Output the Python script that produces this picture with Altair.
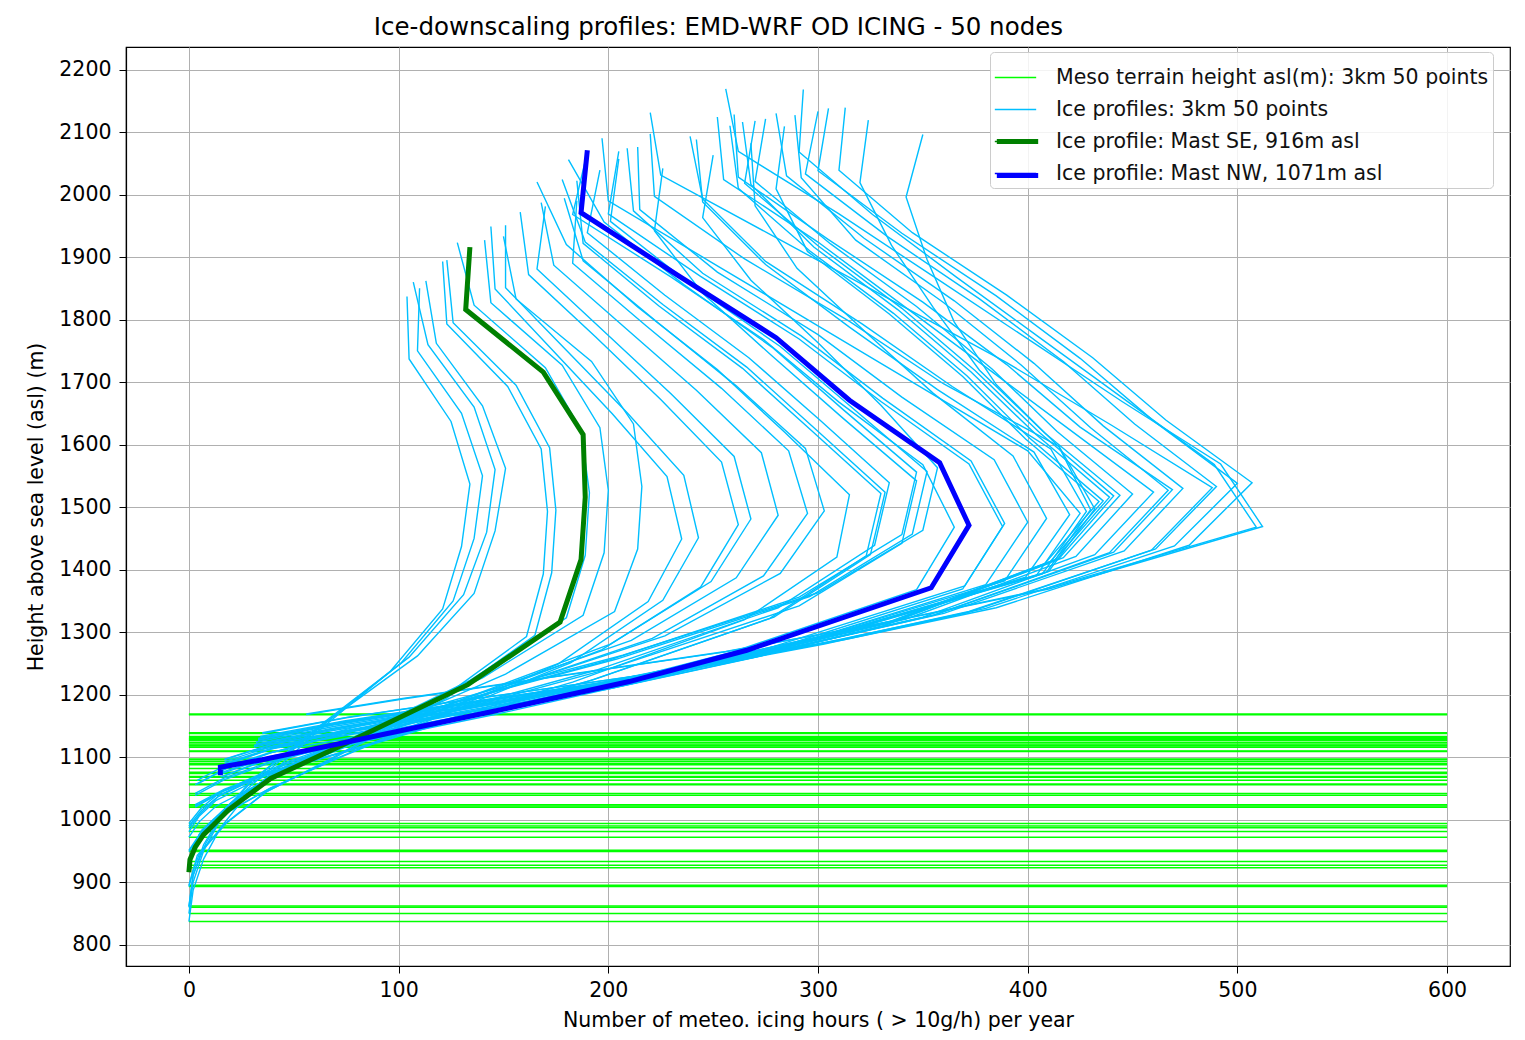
import altair as alt
import pandas as pd

TITLE = "Ice-downscaling profiles: EMD-WRF OD ICING - 50 nodes"
X_TITLE = "Number of meteo. icing hours ( > 10g/h) per year"
Y_TITLE = "Height above sea level (asl) (m)"

SERIES = [
    "Meso terrain height asl(m): 3km 50 points",
    "Ice profiles: 3km 50 points",
    "Ice profile: Mast SE, 916m asl",
    "Ice profile: Mast NW, 1071m asl",
]
COLORS = ["#00ff00", "#00bfff", "#008000", "#0000ff"]

X_TICKS = [0, 100, 200, 300, 400, 500, 600]
Y_TICKS = [800, 900, 1000, 1100, 1200, 1300, 1400, 1500, 1600, 1700,
           1800, 1900, 2000, 2100, 2200]

# terrain height (m asl) of the 50 mesoscale points
TERRAIN_H = [837, 850, 860, 862, 893, 895, 923, 927, 933, 949,
             951, 972, 981, 987, 990, 994, 1020, 1022, 1024, 1039,
             1042, 1056, 1057, 1063, 1068, 1069, 1074, 1076, 1082, 1088,
             1090, 1093, 1096, 1097, 1109, 1110, 1116, 1118, 1119, 1121,
             1124, 1127, 1128, 1130, 1131, 1133, 1138, 1139, 1168, 1169]

# model levels above terrain (m)
LEVELS_DZ = [0, 25, 50, 100, 150, 200, 300, 400, 500, 600, 700, 800, 900, 1000]

# icing hours per year at each level, one row per point
ICE_X = [
    [0, 1, 2, 7, 15, 27, 60, 96, 121, 130, 134, 125, 105, 104],
    [0, 1, 2, 7, 15, 28, 63, 101, 126, 136, 140, 130, 109, 110],
    [0, 1, 2, 7, 16, 29, 66, 105, 131, 142, 146, 136, 114, 107],
    [0, 1, 2, 8, 17, 30, 68, 109, 136, 146, 151, 140, 118, 113],
    [0, 2, 4, 17, 36, 65, 120, 161, 169, 171, 168, 152, 123, 121],
    [0, 2, 5, 18, 37, 67, 123, 165, 173, 175, 172, 156, 126, 123],
    [0, 2, 5, 19, 40, 73, 134, 180, 189, 191, 187, 170, 136, 128],
    [0, 2, 5, 20, 42, 76, 140, 188, 198, 200, 196, 178, 144, 141],
    [0, 2, 6, 22, 45, 82, 151, 203, 214, 216, 212, 192, 156, 150],
    [0, 5, 12, 38, 71, 106, 176, 219, 235, 228, 202, 174, 146, 144],
    [0, 5, 12, 39, 73, 109, 182, 226, 243, 236, 209, 180, 151, 151],
    [0, 5, 13, 42, 79, 118, 197, 244, 262, 254, 225, 194, 162, 158],
    [0, 5, 13, 43, 80, 121, 201, 249, 268, 260, 230, 198, 166, 170],
    [0, 6, 14, 45, 84, 126, 211, 261, 281, 273, 242, 208, 174, 168],
    [0, 6, 15, 47, 89, 133, 221, 274, 295, 286, 254, 218, 183, 185],
    [0, 6, 15, 48, 91, 136, 227, 282, 303, 294, 261, 224, 188, 179],
    [3, 16, 35, 85, 132, 183, 265, 309, 315, 284, 252, 214, 180, 166],
    [3, 17, 36, 89, 139, 191, 277, 323, 330, 297, 264, 224, 188, 185],
    [3, 17, 37, 90, 139, 193, 279, 325, 332, 299, 266, 226, 189, 178],
    [3, 17, 37, 90, 140, 194, 281, 327, 334, 301, 267, 227, 190, 196],
    [3, 17, 38, 94, 146, 201, 291, 340, 347, 312, 278, 245, 222, 226],
    [3, 17, 38, 94, 146, 201, 291, 340, 347, 312, 278, 236, 198, 181],
    [4, 18, 39, 95, 148, 204, 296, 345, 352, 317, 282, 239, 201, 205],
    [4, 18, 39, 96, 150, 207, 300, 350, 357, 330, 300, 268, 245, 250],
    [15, 34, 69, 139, 201, 259, 347, 365, 350, 310, 274, 230, 183, 190],
    [16, 36, 74, 147, 213, 275, 369, 388, 372, 330, 291, 244, 200, 205],
    [16, 37, 74, 148, 214, 276, 370, 389, 373, 331, 292, 245, 212, 209],
    [16, 38, 76, 152, 220, 284, 380, 400, 384, 340, 300, 252, 215, 214],
    [16, 38, 78, 155, 225, 290, 389, 409, 393, 355, 322, 290, 270, 268],
    [17, 39, 80, 160, 231, 298, 399, 420, 403, 357, 315, 275, 245, 242],
    [17, 40, 81, 162, 234, 302, 404, 425, 400, 350, 300, 250, 200, 197],
    [17, 40, 81, 163, 235, 304, 407, 428, 411, 364, 321, 275, 245, 239],
    [17, 40, 82, 163, 237, 305, 409, 430, 415, 385, 365, 352, 342, 350],
    [17, 41, 82, 164, 238, 307, 410, 432, 415, 360, 315, 265, 222, 220],
    [30, 65, 109, 200, 269, 330, 408, 434, 399, 369, 334, 295, 280, 284],
    [31, 65, 109, 201, 270, 331, 410, 436, 401, 371, 336, 296, 262, 258],
    [31, 66, 110, 202, 272, 334, 413, 439, 404, 373, 338, 298, 268, 264],
    [31, 66, 110, 203, 273, 335, 415, 441, 406, 375, 340, 300, 265, 270],
    [31, 67, 111, 204, 275, 337, 417, 444, 408, 377, 355, 335, 320, 324],
    [32, 68, 113, 207, 279, 342, 423, 450, 414, 383, 347, 306, 270, 275],
    [32, 69, 115, 212, 285, 350, 432, 460, 420, 380, 340, 300, 255, 252],
    [33, 70, 117, 215, 290, 355, 439, 467, 430, 397, 360, 318, 292, 289],
    [33, 70, 117, 216, 291, 356, 441, 469, 425, 390, 350, 305, 262, 260],
    [33, 71, 119, 218, 294, 360, 446, 474, 436, 403, 365, 322, 285, 280],
    [34, 73, 122, 224, 303, 371, 459, 488, 440, 390, 335, 280, 225, 220],
    [34, 74, 123, 225, 304, 372, 461, 490, 451, 417, 377, 333, 294, 300],
    [35, 75, 125, 230, 310, 380, 470, 500, 460, 425, 385, 340, 300, 305],
    [35, 76, 127, 233, 314, 385, 477, 507, 466, 431, 390, 345, 310, 313],
    [56, 102, 153, 255, 336, 407, 509, 489, 448, 407, 366, 326, 291, 293],
    [56, 102, 154, 256, 338, 410, 512, 492, 445, 400, 355, 310, 262, 256],
]

MAST_SE_H = 916
MAST_SE_DZ = [0, 20, 40, 60, 80, 100, 150, 200, 300, 400, 500, 600, 700, 800, 900, 1000]
MAST_SE_X = [0, 0.5, 3, 7, 13, 19, 39, 71, 133, 177, 187, 189, 188, 169, 132, 134]

MAST_NW_H = 1071
MAST_NW_DZ = [0, 13, 25, 50, 75, 100, 150, 200, 300, 400, 500, 600, 700, 800, 900, 1000]
MAST_NW_X = [15, 15, 35, 71, 106, 142, 210, 266, 354, 372, 358, 315, 280, 233, 187, 190]

FONT = "DejaVu Sans"
LEG_X, LEG_Y = 864, 5
LEG_SYMBOL = 1710
LEG_ROW = 31

# ---- tables built from the arrays above ----
terrain_df = pd.DataFrame({
    "y": TERRAIN_H,
    "x": [X_TICKS[0]] * len(TERRAIN_H),
    "x2": [X_TICKS[-1]] * len(TERRAIN_H),
    "series": [SERIES[0]] * len(TERRAIN_H),
})

rows = []
for pid, (h, xs) in enumerate(zip(TERRAIN_H, ICE_X)):
    for k, (dz, xv) in enumerate(zip(LEVELS_DZ, xs)):
        rows.append({"pid": pid, "k": k, "x": xv, "y": h + dz, "series": SERIES[1]})
ice_df = pd.DataFrame(rows)

se_df = pd.DataFrame({
    "k": list(range(len(MAST_SE_DZ))),
    "x": MAST_SE_X,
    "y": [MAST_SE_H + d for d in MAST_SE_DZ],
    "mast": [SERIES[2]] * len(MAST_SE_DZ),
})
nw_df = pd.DataFrame({
    "k": list(range(len(MAST_NW_DZ))),
    "x": MAST_NW_X,
    "y": [MAST_NW_H + d for d in MAST_NW_DZ],
    "mast": [SERIES[3]] * len(MAST_NW_DZ),
})

x_enc = alt.X(
    "x:Q",
    scale=alt.Scale(domain=[-30, 630], nice=False, zero=False),
    axis=alt.Axis(values=X_TICKS, title=X_TITLE, labelPadding=7, titlePadding=10),
)
y_enc = alt.Y(
    "y:Q",
    scale=alt.Scale(domain=[766, 2236], nice=False, zero=False),
    axis=alt.Axis(values=Y_TICKS, title=Y_TITLE, format="d", labelPadding=8, titlePadding=12),
)

common_leg = dict(
    title=None,
    orient="none",
    legendX=LEG_X,
    symbolType="stroke",
    symbolSize=LEG_SYMBOL,
    labelFont=FONT,
    labelFontSize=20.5,
    labelLimit=800,
    labelOffset=19,
    padding=4,
    rowPadding=0,
)
legend_all = alt.Legend(
    legendY=LEG_Y,
    symbolStrokeWidth=1.5,
    labelColor="#111111",
    fillColor="rgba(255,255,255,0.85)",
    strokeColor="#cccccc",
    cornerRadius=4,
    **common_leg,
)
# thick symbols laid exactly over the two mast rows of the legend above
legend_mast = alt.Legend(
    legendY=LEG_Y + 2 * LEG_ROW,
    symbolStrokeWidth=5,
    labelExpr="''",
    **common_leg,
)

color_enc = alt.Color("series:N", scale=alt.Scale(domain=SERIES, range=COLORS), legend=legend_all)
mast_enc = alt.Stroke("mast:N", scale=alt.Scale(domain=SERIES[2:], range=COLORS[2:]), legend=legend_mast)

terrain = alt.Chart(terrain_df).mark_rule(strokeWidth=1.5).encode(
    x=x_enc, x2="x2:Q", y=y_enc, color=color_enc
)
ice = alt.Chart(ice_df).mark_line(clip=True, strokeWidth=1.4).encode(
    x=x_enc, y=y_enc, detail="pid:N", order="k:Q", color=color_enc
)
se = alt.Chart(se_df).mark_line(clip=True, strokeWidth=5).encode(
    x=x_enc, y=y_enc, order="k:Q", stroke=mast_enc
)
nw = alt.Chart(nw_df).mark_line(clip=True, strokeWidth=5).encode(
    x=x_enc, y=y_enc, order="k:Q", stroke=mast_enc
)

chart = (
    alt.layer(terrain, ice, se, nw)
    .properties(
        width=1384,
        height=919,
        title=alt.TitleParams(
            TITLE, anchor="start", dx=347, fontSize=24.5, font=FONT,
            fontWeight="normal", color="black", offset=7,
        ),
        autosize=alt.AutoSizeParams(type="none"),
        padding={"left": 118, "top": 39, "right": 7, "bottom": 66},
        background="white",
    )
    .configure_view(stroke="black", strokeWidth=1.2)
    .configure_axis(
        labelFont=FONT, titleFont=FONT, labelFontSize=20.5, titleFontSize=20.5,
        labelColor="black", titleColor="black", titleFontWeight="normal",
        domainColor="black", domainWidth=1.2, tickColor="black", tickSize=7,
        gridColor="#b0b0b0", gridOpacity=1, gridWidth=1,
    )
)

chart.save("out.html", embed_options={"renderer": "svg", "actions": False})
